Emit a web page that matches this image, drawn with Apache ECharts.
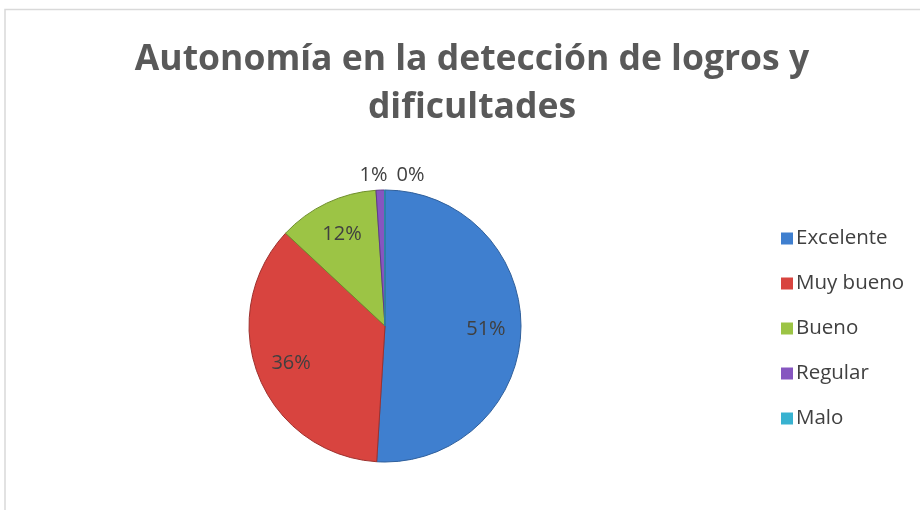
<!DOCTYPE html>
<html><head><meta charset="utf-8">
<script src="https://cdn.jsdelivr.net/npm/echarts@6/dist/echarts.min.js"></script>
<style>html,body{margin:0;padding:0;background:#fff}#c{width:920px;height:510px}</style>
</head><body><div id="c"></div>
<script>
const categories = ['Excelente', 'Muy bueno', 'Bueno', 'Regular', 'Malo'];
const values = [51, 36, 12, 1, 0];
const titleText = 'Autonomía en la detección de logros y\ndificultades';

const colors = ['#3f7fcf', '#d8443f', '#9cc445', '#8656c0', '#38b2d0'];
const edges = ['#30609c', '#9e312e', '#6f8f2c', '#5e3b8a', '#2a8aa3'];

const chart = echarts.init(document.getElementById('c'), null, {renderer: 'canvas'});
const font = '"Open Sans", "Liberation Sans", sans-serif';
const outsideSet = new Set(['Regular', 'Malo']);

const mainData = categories.map((n, i) => ({
  name: n, value: values[i],
  itemStyle: {color: colors[i], borderColor: edges[i], borderWidth: 1},
  label: outsideSet.has(n) ? {show: true, position: 'outside'} : {show: false}
}));
const labelData = categories.map((n, i) => ({
  name: n, value: values[i],
  label: {show: !outsideSet.has(n)}
}));

chart.setOption({
  animation: false,
  backgroundColor: '#fff',
  color: colors,
  title: {
    text: titleText, left: 467, top: 31, textAlign: 'center',
    textStyle: {fontFamily: font, fontWeight: 'bold', fontSize: 35.5, color: '#595959', lineHeight: 48}
  },
  legend: {
    orient: 'vertical', left: 776, top: 223,
    icon: 'rect', itemWidth: 12, itemHeight: 12, itemGap: 24,
    data: categories,
    itemStyle: {borderWidth: 0},
    textStyle: {fontFamily: font, fontSize: 20.5, color: '#404040', lineHeight: 21, padding: [0,0,0,-2]}
  },
  graphic: [{
    type: 'rect', shape: {x: 5, y: 9.5, width: 1200, height: 1200},
    style: {fill: 'none', stroke: '#d9d9d9', lineWidth: 1.5}, silent: true, z: -1
  }],
  series: [{
    type: 'pie', name: 'main', center: [385, 326], radius: [0, 136],
    startAngle: 90, clockwise: true, percentPrecision: 0, minAngle: 0.2,
    avoidLabelOverlap: false,
    label: {formatter: '{d}%', fontFamily: font, fontSize: 20, color: '#404040'},
    labelLine: {show: false, length: 15, length2: 0},
    labelLayout: function (p) {
      if (categories[p.dataIndex] === 'Regular') {
        return {x: p.rect.x + p.rect.width + 2, align: 'right'};
      }
      if (categories[p.dataIndex] === 'Malo') {
        return {x: p.rect.x + p.rect.width + 11, align: 'left'};
      }
    },
    data: mainData
  }, {
    type: 'pie', name: 'labels', center: [385, 326], radius: [60, 136],
    startAngle: 90, clockwise: true, percentPrecision: 0, silent: true,
    legendHoverLink: false,
    itemStyle: {color: 'rgba(0,0,0,0)', borderWidth: 0},
    label: {position: 'inside', formatter: '{d}%', fontFamily: font, fontSize: 20, color: '#404040'},
    labelLine: {show: false},
    data: labelData,
    z: 3
  }]
});
</script></body></html>
